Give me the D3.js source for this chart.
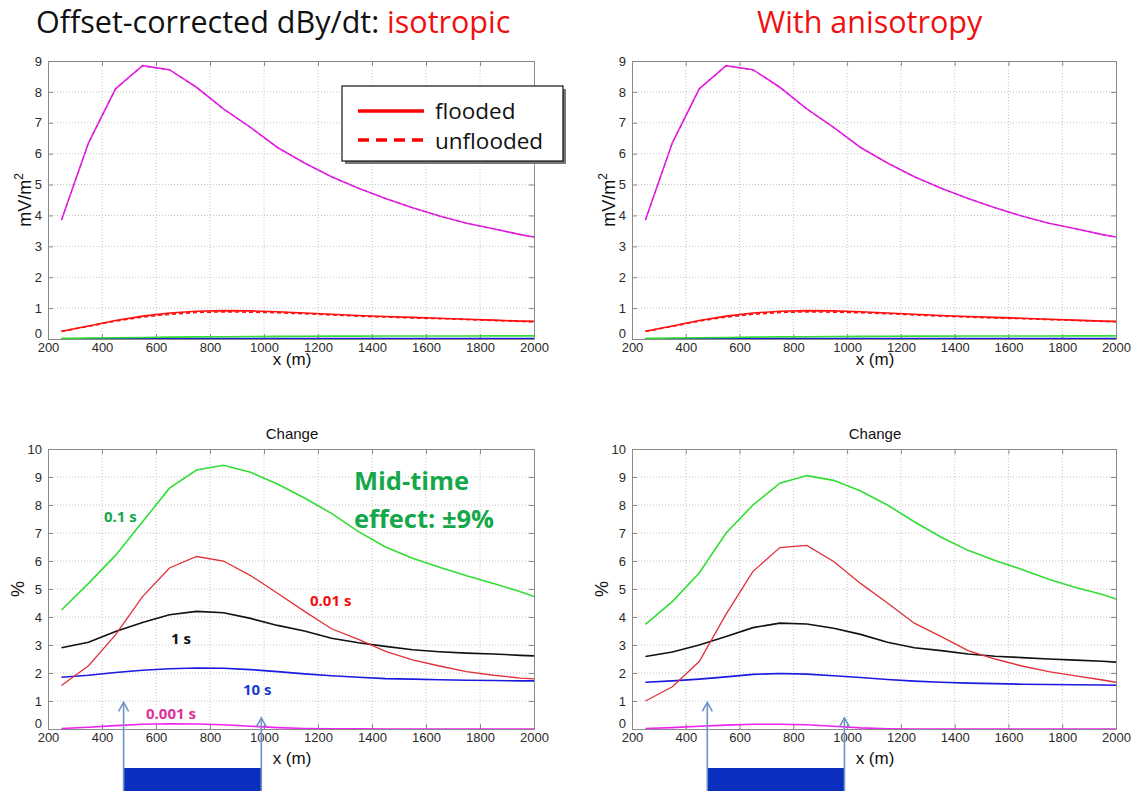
<!DOCTYPE html>
<html>
<head>
<meta charset="utf-8">
<script src="https://cdn.jsdelivr.net/npm/d3@7"></script>
<style>
  body { margin: 0; background: #fff; }
  svg text { font-family: "Liberation Sans", Arial, sans-serif; }
</style>
</head>
<body>
<div id="chart"></div>
<script>
// x positions (m)
const xs = [250, 350, 450, 550, 650, 750, 850, 950, 1050, 1150, 1250, 1350, 1450, 1550, 1650, 1750, 1850, 1950, 2000]

// top panels: dBy/dt (mV/m2), flooded
const topMag = [3.85, 6.35, 8.1, 8.85, 8.72, 8.15, 7.45, 6.85, 6.2, 5.7, 5.25, 4.88, 4.55, 4.25, 3.98, 3.75, 3.57, 3.38, 3.3]
const topRed = [0.25, 0.42, 0.6, 0.74, 0.84, 0.9, 0.92, 0.91, 0.88, 0.84, 0.8, 0.76, 0.73, 0.7, 0.67, 0.64, 0.61, 0.58, 0.57]
const topGreen = [0.02, 0.03, 0.04, 0.05, 0.06, 0.07, 0.075, 0.08, 0.085, 0.09, 0.092, 0.094, 0.096, 0.097, 0.098, 0.099, 0.1, 0.1, 0.1]
const topBlue = [0.01, 0.01, 0.01, 0.012, 0.012, 0.012, 0.012, 0.012, 0.012, 0.012, 0.012, 0.012, 0.012, 0.012, 0.012, 0.012, 0.012, 0.012, 0.012]
// top panels: unflooded (dashed)
const topMagU = [3.85, 6.34, 8.09, 8.84, 8.71, 8.14, 7.44, 6.84, 6.2, 5.7, 5.25, 4.88, 4.55, 4.25, 3.98, 3.75, 3.57, 3.38, 3.3]
const topRedU = [0.246, 0.41, 0.58, 0.71, 0.8, 0.86, 0.88, 0.87, 0.85, 0.82, 0.78, 0.74, 0.71, 0.68, 0.66, 0.63, 0.6, 0.57, 0.56]

// bottom-left: change (%) isotropic
const isoGreen = [4.25, 5.2, 6.2, 7.4, 8.6, 9.25, 9.42, 9.17, 8.75, 8.25, 7.7, 7.05, 6.5, 6.1, 5.78, 5.47, 5.2, 4.9, 4.73]
const isoRed = [1.55, 2.26, 3.36, 4.73, 5.75, 6.16, 6.0, 5.48, 4.85, 4.2, 3.58, 3.2, 2.77, 2.47, 2.25, 2.05, 1.92, 1.82, 1.79]
const isoBlack = [2.9, 3.1, 3.48, 3.8, 4.08, 4.2, 4.15, 3.95, 3.7, 3.5, 3.24, 3.08, 2.95, 2.83, 2.76, 2.71, 2.68, 2.63, 2.61]
const isoBlue = [1.85, 1.92, 2.02, 2.1, 2.15, 2.18, 2.17, 2.12, 2.05, 1.97, 1.9, 1.85, 1.8, 1.78, 1.76, 1.74, 1.73, 1.72, 1.72]
const isoMag = [0.02, 0.06, 0.12, 0.17, 0.19, 0.18, 0.15, 0.1, 0.05, 0.02, 0.01, 0.01, 0, 0, 0, 0, 0, 0, 0]

// bottom-right: change (%) with anisotropy
const aniGreen = [3.74, 4.55, 5.57, 7.0, 8.0, 8.78, 9.05, 8.88, 8.5, 8.0, 7.4, 6.85, 6.38, 6.02, 5.7, 5.35, 5.05, 4.8, 4.64]
const aniRed = [1.0, 1.51, 2.41, 4.1, 5.63, 6.48, 6.56, 5.98, 5.2, 4.5, 3.78, 3.3, 2.8, 2.5, 2.25, 2.05, 1.9, 1.75, 1.67]
const aniBlack = [2.59, 2.75, 3.0, 3.3, 3.62, 3.78, 3.75, 3.6, 3.38, 3.1, 2.9, 2.8, 2.68, 2.6, 2.55, 2.5, 2.46, 2.42, 2.39]
const aniBlue = [1.67, 1.72, 1.78, 1.86, 1.95, 1.98, 1.96, 1.9, 1.84, 1.77, 1.71, 1.67, 1.64, 1.62, 1.6, 1.59, 1.58, 1.57, 1.56]
const aniMag = [0.02, 0.05, 0.1, 0.14, 0.17, 0.17, 0.15, 0.1, 0.04, 0.01, 0, 0, 0, 0, 0, 0, 0, 0, 0]

// ticks
const xTicks = [200, 400, 600, 800, 1000, 1200, 1400, 1600, 1800, 2000]
const yTicksTop = [0, 1, 2, 3, 4, 5, 6, 7, 8, 9]
const yTicksBottom = [0, 1, 2, 3, 4, 5, 6, 7, 8, 9, 10]

// flooded zone (m) and arrow tips (%)
const zone = [480, 990]
const zoneTips = [0.95, 0.4]

const col = { mag: '#ee22ee', red: '#ff1111', green: '#33dd33', blue: '#1a1ae0', black: '#111', redB: '#e0303a' }

const width = 1135, height = 795

let svg = d3.select('#chart').append('svg')
  .attr('width', width)
  .attr('height', height)

let clipN = 0

let drawPanel = (p) => {
  const x = d3.scaleLinear().domain([200, 2000]).range([p.x0, p.x1])
  const y = d3.scaleLinear().domain([0, p.ymax]).range([p.y1, p.y0])
  const g = svg.append('g')

  // grid
  g.selectAll('.gx').data(xTicks.slice(1, -1)).enter().append('line')
    .attr('x1', d => x(d)).attr('x2', d => x(d))
    .attr('y1', p.y0).attr('y2', p.y1)
    .attr('stroke', '#c4c4c4').attr('stroke-dasharray', '1,2')
  g.selectAll('.gy').data(p.yTicks.slice(1, -1)).enter().append('line')
    .attr('y1', d => y(d)).attr('y2', d => y(d))
    .attr('x1', p.x0).attr('x2', p.x1)
    .attr('stroke', '#c4c4c4').attr('stroke-dasharray', '1,2')

  // axes (inward ticks, MATLAB box)
  g.append('g').attr('transform', `translate(0,${p.y1})`)
    .call(d3.axisBottom(x).tickValues(xTicks).tickFormat(d3.format('d')).tickSizeInner(-5).tickSizeOuter(0).tickPadding(4))
  g.append('g').attr('transform', `translate(0,${p.y0})`)
    .call(d3.axisTop(x).tickValues(xTicks).tickSizeInner(-5).tickSizeOuter(0).tickFormat(''))
  g.append('g').attr('class', 'yleft').attr('transform', `translate(${p.x0},0)`)
    .call(d3.axisLeft(y).tickValues(p.yTicks).tickSizeInner(-5).tickSizeOuter(0).tickPadding(6))
  g.append('g').attr('transform', `translate(${p.x1},0)`)
    .call(d3.axisRight(y).tickValues(p.yTicks).tickSizeInner(-5).tickSizeOuter(0).tickFormat(''))
  g.selectAll('.domain').attr('stroke', '#8a8a8a')
  g.selectAll('.tick line').attr('stroke', '#8a8a8a')
  g.selectAll('.tick text').attr('font-size', 13).attr('fill', '#2a2a2a')
    .attr('font-family', '"Liberation Sans", Arial, sans-serif')
  // lift the corner "0" a little off the "200"
  g.select('.yleft').selectAll('.tick text').filter(d => d === 0).attr('dy', '-0.12em')

  // clip
  clipN++
  svg.append('clipPath').attr('id', 'clip' + clipN).append('rect')
    .attr('x', p.x0).attr('y', p.y0 - 2).attr('width', p.x1 - p.x0).attr('height', p.y1 - p.y0 + 2)

  const line = d3.line().x((d, i) => x(xs[i])).y(d => y(d))
  const lines = g.append('g').attr('clip-path', `url(#clip${clipN})`)
  p.series.forEach(s => {
    lines.append('path').datum(s.v)
      .attr('d', line)
      .attr('fill', 'none')
      .attr('stroke', s.c)
      .attr('stroke-width', s.w || 1.6)
      .attr('stroke-dasharray', s.dash || null)
  })

  // labels
  g.append('text')
    .attr('x', (p.x0 + p.x1) / 2 + 1).attr('y', p.y1 + p.xlabDy)
    .attr('text-anchor', 'middle').attr('font-size', 17).attr('fill', '#111')
    .text('x (m)')
  const yl = g.append('text')
    .attr('text-anchor', 'middle').attr('font-size', 18).attr('fill', '#111')
  if (p.unit === 'mV') {
    yl.attr('transform', `translate(${p.x0 - 17},${(p.y0 + p.y1) / 2}) rotate(-90)`).text('mV/m')
    yl.append('tspan').attr('font-size', 12).attr('dy', -8).text('2')
  } else {
    yl.attr('transform', `translate(${p.x0 - 24},${(p.y0 + p.y1) / 2}) rotate(-90)`).text('%')
  }
  if (p.title) {
    g.append('text')
      .attr('x', (p.x0 + p.x1) / 2 + 1).attr('y', p.y0 - 10)
      .attr('text-anchor', 'middle').attr('font-size', 15).attr('fill', '#111')
      .text(p.title)
  }
  return { x, y, g }
}

let topSeries = [
  { v: topBlue, c: col.blue },
  { v: topGreen, c: col.green },
  { v: topRed, c: col.red },
  { v: topRedU, c: col.red, dash: '4,3' },
  { v: topMag, c: col.mag },
  { v: topMagU, c: '#c020c0', dash: '4,3', w: 1 }
]

drawPanel({ x0: 48, x1: 534, y0: 61, y1: 339, ymax: 9, yTicks: yTicksTop, unit: 'mV', xlabDy: 26, series: topSeries })
drawPanel({ x0: 632, x1: 1116, y0: 61, y1: 339, ymax: 9, yTicks: yTicksTop, unit: 'mV', xlabDy: 26, series: topSeries })

let bl = drawPanel({ x0: 48, x1: 534, y0: 449, y1: 729, ymax: 10, yTicks: yTicksBottom, unit: '%', title: 'Change', xlabDy: 35,
  series: [
    { v: isoMag, c: col.mag }, { v: isoBlue, c: col.blue }, { v: isoBlack, c: col.black },
    { v: isoRed, c: col.redB, w: 1.3 }, { v: isoGreen, c: col.green }
  ] })
let br = drawPanel({ x0: 632, x1: 1116, y0: 449, y1: 729, ymax: 10, yTicks: yTicksBottom, unit: '%', title: 'Change', xlabDy: 35,
  series: [
    { v: aniMag, c: col.mag }, { v: aniBlue, c: col.blue }, { v: aniBlack, c: col.black },
    { v: aniRed, c: col.redB, w: 1.3 }, { v: aniGreen, c: col.green }
  ] })

// legend (top-left)
const lg = svg.append('g')
lg.append('rect').attr('x', 345).attr('y', 89).attr('width', 221).attr('height', 75).attr('fill', '#777')
lg.append('rect').attr('x', 342).attr('y', 86).attr('width', 221).attr('height', 75)
  .attr('fill', '#fff').attr('stroke', '#111').attr('stroke-width', 1.2)
lg.append('line').attr('x1', 358).attr('x2', 424).attr('y1', 111).attr('y2', 111)
  .attr('stroke', '#f00').attr('stroke-width', 3.5)
lg.append('line').attr('x1', 358).attr('x2', 424).attr('y1', 140).attr('y2', 140)
  .attr('stroke', '#f00').attr('stroke-width', 3.5).attr('stroke-dasharray', '11,7')
lg.append('text').attr('x', 435).attr('y', 119).attr('font-size', 22.5).attr('fill', '#111')
  .style('font-family', '"Open Sans", sans-serif').text('flooded')
lg.append('text').attr('x', 435).attr('y', 149).attr('font-size', 22.5).attr('fill', '#111')
  .style('font-family', '"Open Sans", sans-serif').text('unflooded')

// main titles
const t1 = svg.append('text').attr('x', 36).attr('y', 33).attr('font-size', 30.5)
  .style('font-family', '"Open Sans", sans-serif').attr('fill', '#111')
t1.append('tspan').text('Offset-corrected dBy/dt: ')
t1.append('tspan').attr('fill', '#f01010').text('isotropic')
svg.append('text').attr('x', 757).attr('y', 33).attr('font-size', 30.5)
  .style('font-family', '"Open Sans", sans-serif').attr('fill', '#f01010').text('With anisotropy')

// annotations bottom-left
const ann = (t, x, y, c, s) => svg.append('text').attr('x', x).attr('y', y)
  .attr('font-size', s).attr('font-weight', 'bold').attr('fill', c)
  .style('font-family', '"Open Sans", sans-serif').text(t)
ann('Mid-time', 354, 490, '#14a84a', 25.5)
ann('effect: \u00b19%', 354, 528, '#14a84a', 25.5)
ann('0.1 s', 104, 522, '#14a84a', 15)
ann('0.01 s', 310, 606, '#f01010', 15)
ann('1 s', 171, 644, '#111', 15)
ann('10 s', 243, 695, '#1a3ad0', 15)
ann('0.001 s', 146, 719, '#e0309a', 15)

// flooded zone: arrows and bar
let drawZone = (p) => {
  const xa = p.x(zone[0]), xb = p.x(zone[1])
  p.g.append('rect').attr('x', xa).attr('y', 768).attr('width', xb - xa).attr('height', 23)
    .attr('fill', '#0a2fbf')
  ;[0, 1].forEach(i => {
    const xx = p.x(zone[i]), yt = p.y(zoneTips[i])
    p.g.append('line').attr('x1', xx).attr('x2', xx).attr('y1', yt).attr('y2', 791)
      .attr('stroke', '#6f93c8').attr('stroke-width', 1.6)
    p.g.append('path').attr('d', `M${xx - 5},${yt + 9}L${xx},${yt}L${xx + 5},${yt + 9}`)
      .attr('fill', 'none').attr('stroke', '#6f93c8').attr('stroke-width', 1.6)
  })
}
drawZone(bl)
drawZone(br)
</script>
</body>
</html>
